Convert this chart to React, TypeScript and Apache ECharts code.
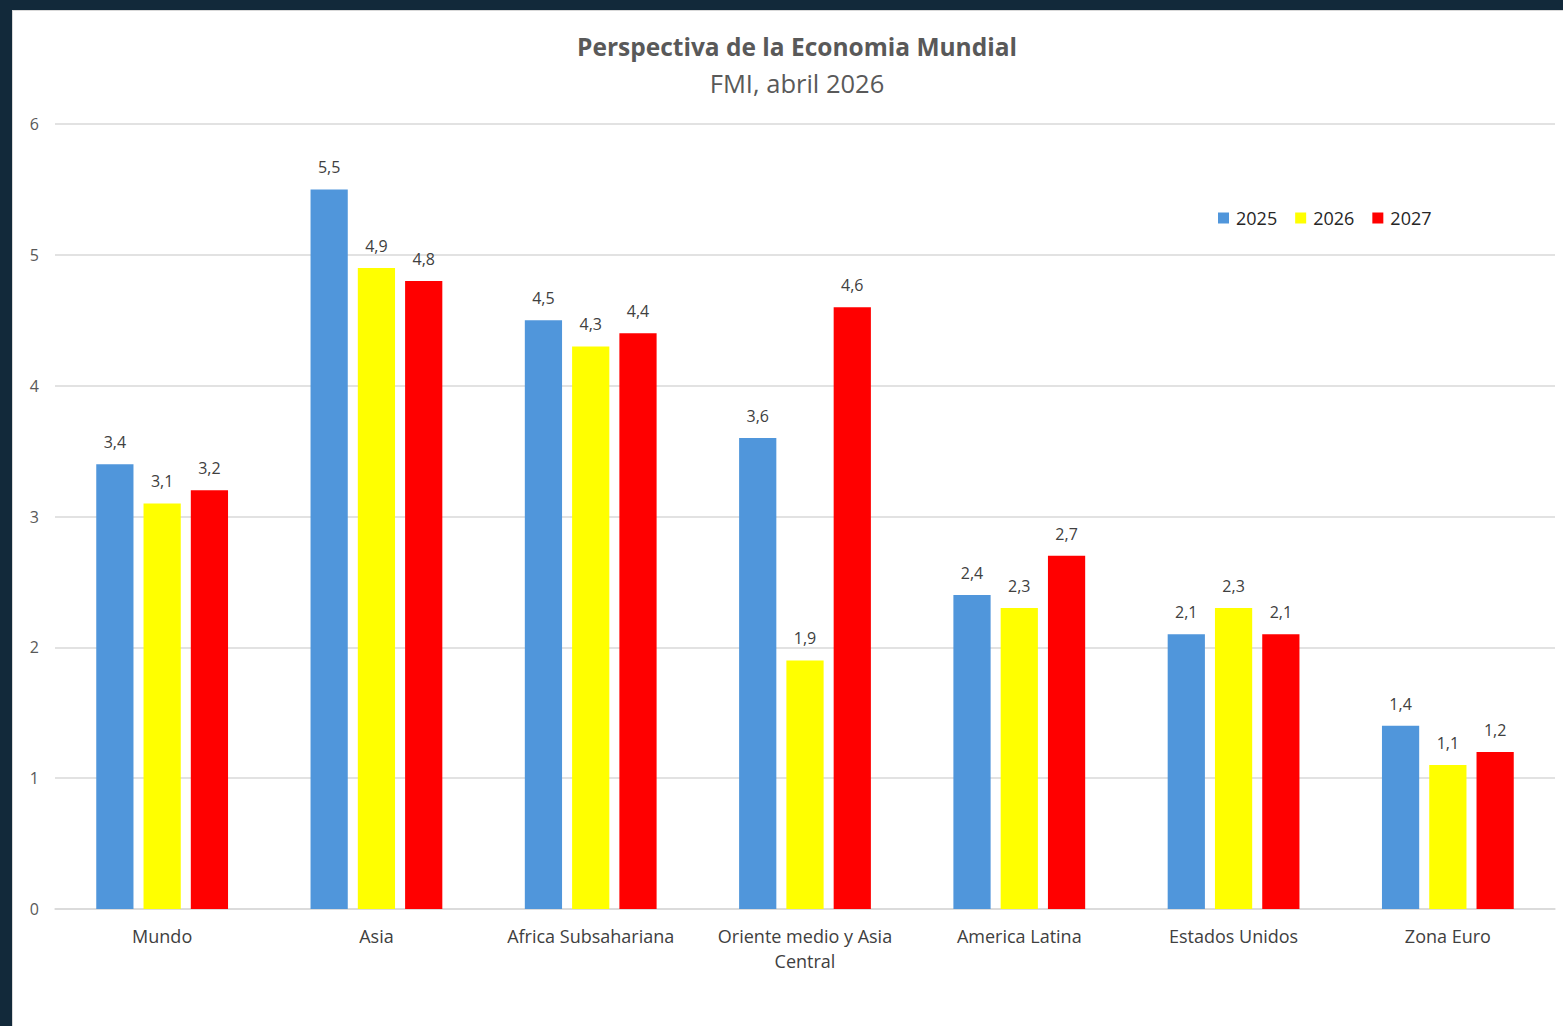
import React, { useEffect, useRef } from "react";
import * as echarts from "echarts";

const categories = [
  "Mundo",
  "Asia",
  "Africa Subsahariana",
  "Oriente medio y Asia\nCentral",
  "America Latina",
  "Estados Unidos",
  "Zona Euro",
];
const seriesNames = ["2025", "2026", "2027"];
const values2025 = [3.4, 5.5, 4.5, 3.6, 2.4, 2.1, 1.4];
const values2026 = [3.1, 4.9, 4.3, 1.9, 2.3, 2.3, 1.1];
const values2027 = [3.2, 4.8, 4.4, 4.6, 2.7, 2.1, 1.2];
const colors = ["#5096DB", "#FFFF00", "#FF0000"];
const titleText = "Perspectiva de la Economia Mundial";
const subtitleText = "FMI, abril 2026";

const FONT = "'Open Sans', 'Noto Sans', sans-serif";

export default function App() {
  const ref = useRef<HTMLDivElement>(null);
  useEffect(() => {
    if (!ref.current) return;
    const chart = echarts.init(ref.current, undefined, { renderer: "svg" });
    const fmt = (p: any) => String(p.value).replace(".", ",");
    const data = [values2025, values2026, values2027];
    chart.setOption({
      animation: false,
      backgroundColor: "#ffffff",
      textStyle: { fontFamily: FONT },
      graphic: [
        {
          type: "text",
          x: 784,
          y: 35,
          style: {
            text: titleText,
            fontFamily: FONT,
            fontSize: 24.5,
            fontWeight: "bold",
            fill: "#595959",
            textAlign: "center",
            textVerticalAlign: "middle",
          },
        },
        {
          type: "text",
          x: 784,
          y: 72,
          style: {
            text: subtitleText,
            fontFamily: FONT,
            fontSize: 25.5,
            fill: "#595959",
            textAlign: "center",
            textVerticalAlign: "middle",
          },
        },
      ],
      legend: {
        data: seriesNames,
        left: 1200,
        top: 193,
        itemWidth: 11,
        itemHeight: 11,
        itemGap: 18,
        icon: "rect",
        textStyle: { fontFamily: FONT, fontSize: 18, color: "#262626", padding: [0, 0, 0, 2] },
      },
      grid: { left: 42, right: 8, top: 113, bottom: 117, containLabel: false },
      xAxis: {
        type: "category",
        data: categories,
        axisLine: { show: true, lineStyle: { color: "#d9d9d9", width: 1.5 } },
        axisTick: { show: false },
        axisLabel: {
          fontFamily: FONT,
          fontSize: 18,
          color: "#404040",
          margin: 14,
          lineHeight: 25,
          interval: 0,
        },
      },
      yAxis: {
        type: "value",
        min: 0,
        max: 6,
        interval: 1,
        axisLine: { show: false },
        axisTick: { show: false },
        splitLine: { lineStyle: { color: "#d9d9d9", width: 1.5 } },
        axisLabel: { fontFamily: FONT, fontSize: 16, color: "#595959", margin: 16 },
      },
      series: seriesNames.map((name, i) => ({
        name,
        type: "bar",
        data: data[i],
        itemStyle: { color: colors[i] },
        barGap: "27%",
        barCategoryGap: "38.5%",
        label: {
          show: true,
          position: "top",
          distance: 14,
          formatter: fmt,
          fontFamily: FONT,
          fontSize: 16,
          color: "#404040",
        },
      })),
    });
    return () => chart.dispose();
  }, []);
  return (
    <div
      style={{
        position: "fixed",
        left: 0,
        top: 0,
        width: 1563,
        height: 1026,
        background: "#12293a",
      }}
    >
      <div
        style={{
          position: "absolute",
          left: 12,
          top: 10,
          width: 1551,
          height: 1016,
          background: "#ffffff",
          borderTop: "1px solid #d9d9d9",
          borderLeft: "1px solid #d9d9d9",
          boxSizing: "border-box",
        }}
      >
        <div ref={ref} style={{ width: "100%", height: "100%" }} />
      </div>
    </div>
  );
}
